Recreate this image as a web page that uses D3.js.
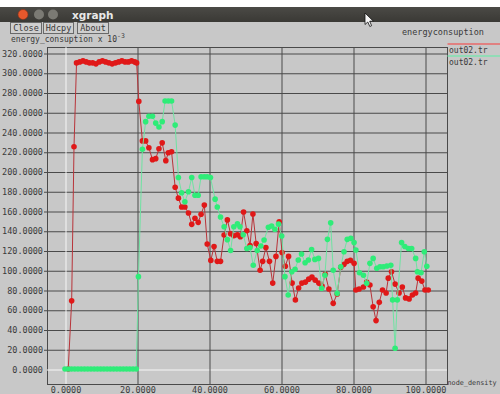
<!DOCTYPE html>
<html>
<head>
<meta charset="utf-8">
<script src="https://cdn.jsdelivr.net/npm/d3@7"></script>
<style>
  body { margin: 0; background: #fff; }
  svg { display: block; }
</style>
</head>
<body>
<script>
// ---- data: energy consumption (x 10^-3) vs node density ----
const xTicks = [0, 20, 40, 60, 80, 100];
const yTicks = [0, 20, 40, 60, 80, 100, 120, 140, 160, 180, 200, 220, 240, 260, 280, 300, 320];
const seriesNames = ["out02.tr", "out02.tr"];
const buttonLabels = ["Close", "Hdcpy", "About"];

const redX = [0.9, 1.85, 2.5, 3.2, 4.1, 5.0, 5.9, 6.8, 7.7, 8.6, 9.5, 10.4, 11.3, 12.2, 13.1, 14.0, 14.9, 15.8, 16.7, 17.6, 18.5, 19.4, 19.9,
  20.5, 21.5, 22.4, 23.3, 24.3, 25.2, 26.1, 27.0, 28.0, 28.7, 29.6, 30.6, 31.5, 32.4, 33.3, 34.3, 35.2, 36.1, 37.0, 37.8, 38.7, 39.5,
  40.5, 41.4, 42.3, 43.2, 44.2, 45.1, 46.0, 46.9, 47.9, 48.7, 49.6, 50.5, 51.4, 52.2, 53.1, 54.2, 54.9, 55.8, 56.8, 57.7, 58.6, 59.5,
  60.3, 61.2, 62.1, 63.1, 64.0, 64.9, 65.8, 66.8, 67.7, 68.6, 69.5, 70.5, 71.4, 72.3, 73.3, 74.5, 75.6, 76.6, 77.5, 78.4, 79.3,
  80.3, 80.8, 81.7, 82.9, 83.8, 84.7, 85.6, 86.4, 87.3, 88.2, 89.2, 89.8, 90.7, 91.7, 92.8, 93.7, 94.6, 95.6, 96.5, 97.4, 98.1, 99.1,
  100.0, 100.9];
const redY = [0, 69, 225, 310, 311, 312, 311, 310, 310, 309, 311, 312, 311, 310, 309, 310, 311, 312, 311, 311, 312, 311, 310,
  271, 231, 231, 224, 212, 213, 223, 229, 211, 219, 220, 184, 173, 164, 164, 158, 146.5, 152.6, 148.5, 156.7, 166, 126.6,
  110, 124, 109, 109, 135.7, 151, 137, 135, 136, 134, 159, 140, 125, 157, 127, 100, 109, 123, 109, 87, 114, 149,
  118, 104, 114, 87, 70, 82, 87, 88, 91, 93, 90, 87, 84, 96, 81, 66.5, 76, 103, 106, 109, 110,
  107, 80, 81, 83, 88, 85, 63, 49, 67.5, 80, 77, 92, 98.5, 86, 77, 83, 72, 71, 75, 77, 92, 89,
  80, 80];

const greenX = [0, 0.9, 1.8, 2.7, 3.6, 4.5, 5.4, 6.3, 7.2, 8.1, 9.0, 9.9, 10.8, 11.7, 12.6, 13.5, 14.4, 15.3, 16.2, 17.1, 18.0, 18.9, 19.8,
  20.4, 21.5, 22.4, 23.3, 24.3, 25.2, 26.1, 27.0, 27.8, 28.7, 29.6, 30.6, 31.5, 32.4, 33.3, 34.3, 35.2, 36.1, 37.0, 37.8, 38.7, 39.5,
  40.4, 41.7, 42.3, 43.2, 44.2, 45.1, 46.0, 46.9, 47.9, 48.6, 49.5, 50.5, 51.4, 52.3, 53.4, 54.4, 55.3, 56.5, 57.4, 58.3, 59.3,
  60.2, 61.1, 62.0, 63.0, 63.9, 64.8, 65.7, 66.7, 67.6, 68.5, 69.4, 70.4, 71.3, 72.2, 72.9, 73.8, 74.5, 75.6, 76.6, 77.5, 78.4, 79.4,
  80.3, 80.8, 81.8, 82.9, 83.8, 84.7, 85.6, 86.6, 87.5, 88.4, 89.4, 90.5, 91.0, 91.7, 92.3, 93.5, 94.4, 95.4, 96.3, 97.4, 97.9, 98.9,
  99.8, 100.5];
const greenY = [0, 0, 0, 0, 0, 0, 0, 0, 0, 0, 0, 0, 0, 0, 0, 0, 0, 0, 0, 0, 0, 0, 0,
  93.5, 222.5, 250.5, 256, 256, 249, 245, 250.5, 271.4, 271.4, 271.4, 247, 194, 178.5, 169.4, 179.5, 194, 176, 176, 194.7, 194.7, 194.7,
  194, 172, 164, 154, 144, 131, 120, 144, 147, 144, 136, 122, 123, 105, 120, 124.6, 130.6, 143.5, 144.8, 141.5, 146.8,
  134.7, 93.5, 75, 98.5, 101, 110.4, 116.5, 107.6, 110.4, 121, 111, 112, 81.7, 95, 131.3, 148, 100, 76.6, 103.6, 118.8, 131.3, 132.3,
  128, 120.5, 97.5, 95, 86.8, 107, 112, 102, 103.6, 103.6, 104.3, 105, 70, 21, 70, 128, 124, 122, 122, 112, 98.5, 97.5,
  118.8, 104];

// ---- layout ----
const W = 500, H = 394;
const frame = { left: 47, right: 447, top: 47, bottom: 384 };
const bg = "#c8c8c8";
const gridColor = "#4a4a4a";
const textColor = "#3a3a3a";
const mono = "'DejaVu Sans Mono', 'Liberation Mono', monospace";

const svg = d3.select("body").append("svg").attr("width", W).attr("height", H);

// window body
svg.append("rect").attr("width", W).attr("height", H).attr("fill", "#fff");
svg.append("rect").attr("x", 0).attr("y", 7).attr("width", W).attr("height", H - 7).attr("fill", bg);

// title bar
const tg = svg.append("defs").append("linearGradient").attr("id", "tb").attr("x1", 0).attr("y1", 0).attr("x2", 0).attr("y2", 1);
tg.append("stop").attr("offset", 0).attr("stop-color", "#4b4a46");
tg.append("stop").attr("offset", 1).attr("stop-color", "#3a3935");
svg.append("rect").attr("x", 0).attr("y", 7).attr("width", W).attr("height", 15).attr("fill", "url(#tb)");
svg.append("circle").attr("cx", 23).attr("cy", 14.5).attr("r", 5).attr("fill", "#e8582c").attr("stroke", "#8a3018").attr("stroke-width", 0.6);
svg.append("circle").attr("cx", 39).attr("cy", 14.5).attr("r", 5).attr("fill", "#7b7a74");
svg.append("circle").attr("cx", 53).attr("cy", 14.5).attr("r", 5).attr("fill", "#7b7a74");
svg.append("text").attr("x", 72).attr("y", 18.5).attr("fill", "#e8e8e8")
  .style("font", "bold 10.5px 'DejaVu Sans', sans-serif").text("xgraph");

// pointer
svg.append("path").attr("d", "M365,13 L365,24.5 L367.8,22 L369.8,26.5 L371.6,25.7 L369.7,21.2 L373.4,21.2 Z")
  .attr("fill", "#f4f4f4").attr("stroke", "#111").attr("stroke-width", 0.8);

// buttons
const btnX = [10, 43, 77];
const btnW = [31, 30, 31];
buttonLabels.forEach((b, i) => {
  svg.append("rect").attr("x", btnX[i] + 0.5).attr("y", 22.5).attr("width", btnW[i]).attr("height", 11)
    .attr("fill", "#cfcfcf").attr("stroke", "#6a6a6a").attr("stroke-width", 1);
  svg.append("text").attr("x", btnX[i] + btnW[i] / 2 + 0.5).attr("y", 31).attr("text-anchor", "middle")
    .attr("fill", textColor).style("font", `8.5px ${mono}`).text(b);
});

// y-axis title, just under the buttons
const ytitle = svg.append("text").attr("x", 11).attr("y", 41.5).attr("fill", textColor)
  .style("font", `8px ${mono}`);
ytitle.append("tspan").text("energy_consuption x 10");
ytitle.append("tspan").attr("dy", -3.5).style("font-size", "6.5px").text("-3");

// right-hand title
svg.append("text").attr("x", 402).attr("y", 34.5).attr("fill", textColor)
  .style("font", `8.5px ${mono}`).text("energyconsuption");

// ---- scales ----
const x = d3.scaleLinear().domain([0, 100]).range([65, 425]);
const y = d3.scaleLinear().domain([0, 320]).range([369, 53]);

// frame
svg.append("rect").attr("x", frame.left + 0.5).attr("y", frame.top + 0.5)
  .attr("width", frame.right - frame.left).attr("height", frame.bottom - frame.top)
  .attr("fill", "none").attr("stroke", gridColor);

// y axis with horizontal grid
const yAxis = d3.axisLeft(y).tickValues(yTicks).tickFormat(d3.format(".4f"))
  .tickSize(-(frame.right - 44)).tickPadding(1);
const gy = svg.append("g").attr("transform", "translate(44,0.5)").call(yAxis);
gy.select(".domain").remove();
gy.selectAll(".tick line").attr("stroke", d => d === 0 ? "#f6f6f6" : gridColor).attr("x1", 0);
gy.selectAll(".tick line").filter(d => d === 0).attr("x1", frame.left - 44);
gy.selectAll(".tick text").attr("fill", textColor).style("font", `8.5px ${mono}`);

// x axis with vertical grid
const xAxis = d3.axisBottom(x).tickValues(xTicks).tickFormat(d3.format(".4f"))
  .tickSize(-(frame.bottom - frame.top)).tickPadding(3);
const gx = svg.append("g").attr("transform", `translate(0.5,${frame.bottom})`).call(xAxis);
gx.select(".domain").remove();
gx.selectAll(".tick line").attr("stroke", d => d === 0 ? "#f6f6f6" : gridColor);
gx.selectAll(".tick text").attr("fill", textColor).style("font", `8.5px ${mono}`);

// x-axis title in the strip right of the frame
svg.append("text").attr("x", 447.5).attr("y", 385).attr("fill", textColor)
  .style("font", `6.8px ${mono}`).text("node_density");

// ---- series ----
const line = d3.line().x(d => x(d[0])).y(d => y(d[1]));
const redPts = redX.map((v, i) => [v, redY[i]]);
const greenPts = greenX.map((v, i) => [v, greenY[i]]);

const series = [
  { pts: redPts, line: "#b8343a", dot: "#e01818" },
  { pts: greenPts, line: "#6fe3a2", dot: "#2fec78" }
];

series.forEach(s => {
  svg.append("path").datum(s.pts).attr("d", line)
    .attr("fill", "none").attr("stroke", s.line).attr("stroke-width", 1);
  svg.append("g").selectAll("circle").data(s.pts).join("circle")
    .attr("cx", d => x(d[0])).attr("cy", d => y(d[1])).attr("r", 2.8)
    .attr("fill", s.dot);
});

// ---- legend ----
const legendY = [44, 56];
series.forEach((s, i) => {
  svg.append("line").attr("x1", frame.left + 400.5).attr("x2", W).attr("y1", legendY[i]).attr("y2", legendY[i])
    .attr("stroke", i === 0 ? "#e86a6a" : "#7fe3b0").attr("stroke-width", 1.5);
  svg.append("text").attr("x", 449).attr("y", legendY[i] + 9).attr("fill", textColor)
    .style("font", `8px ${mono}`).text(seriesNames[i]);
});
</script>
</body>
</html>
